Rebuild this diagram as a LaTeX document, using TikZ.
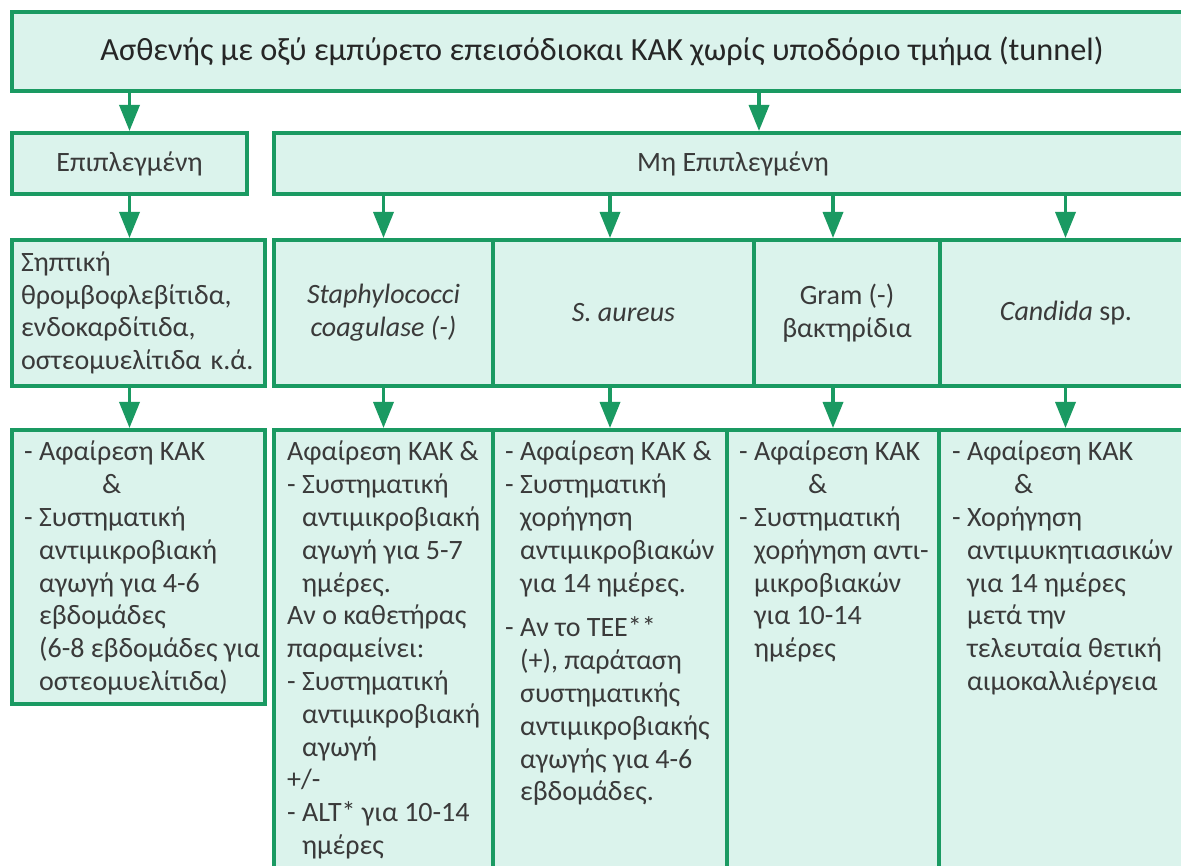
\documentclass[tikz,border=0pt]{standalone}
\usepackage{fontspec}
\setmainfont{Carlito}
\usetikzlibrary{arrows.meta,positioning}
\definecolor{frame}{HTML}{1A9A62}
\definecolor{cellfill}{HTML}{DBF3EC}
\definecolor{txt}{HTML}{3A3A3A}
\newcommand\dind{\phantom{- }}

\begin{document}
\begin{tikzpicture}[x=1pt,y=-1pt,
  box/.style={draw=frame,fill=cellfill,line width=4pt,anchor=north west,inner sep=0pt,text=txt,
    font=\fontsize{28}{32.8}\selectfont,align=center},
  body/.style={font=\fontsize{28}{32.8}\selectfont,align=left,anchor=north west,inner sep=0pt,text=txt},
  arr/.style={draw=frame,line width=3.5pt,-{Triangle[width=20pt,length=26pt]}}]
\clip (0,0) rectangle (1181,866);

% title and first split
\node[box,minimum width=1180pt,minimum height=79pt,font=\fontsize{32.3}{40}\selectfont,text=black!85] (pat) at (10,10)
  {Ασθενής με οξύ εμπύρετο επεισόδιοκαι ΚΑΚ χωρίς υποδόριο τμήμα (tunnel)};
\node[box,minimum width=235pt,minimum height=61pt] (epi) at (10,131) {Επιπλεγμένη};
\node[box,minimum width=918pt,minimum height=61pt] (mh) at (272,131) {Μη Επιπλεγμένη};

% row 3
\node[box,minimum width=253pt,minimum height=146pt,text width=235pt,align=left] (sep) at (10,238)
  {Σηπτική\\θρομβοφλεβίτιδα,\\ενδοκαρδίτιδα,\\οστεομυελίτιδα κ.ά.};
\node[box,minimum width=219pt,minimum height=146pt] (sta) at (272,238) {\textit{Staphylococci}\\\textit{coagulase (-)}};
\node[box,minimum width=261pt,minimum height=146pt] (sau) at (491,238) {\textit{S. aureus}};
\node[box,minimum width=186pt,minimum height=146pt] (gra) at (752,238) {Gram (-)\\βακτηρίδια};
\node[box,minimum width=252pt,minimum height=146pt] (can) at (938,238) {\textit{Candida} sp.};

% row 4
\node[box,minimum width=253pt,minimum height=274pt] (sepT) at (10,428) {};
\node[box,minimum width=219pt,minimum height=460pt] (staT) at (272,428) {};
\node[box,minimum width=234pt,minimum height=460pt] (sauT) at (491,428) {};
\node[box,minimum width=212pt,minimum height=460pt] (graT) at (725,428) {};
\node[box,minimum width=253pt,minimum height=460pt] (canT) at (937,428) {};

\node[body] (sepX) at ([xshift=14pt,yshift=-13pt]sepT.north west)
  {- Αφαίρεση ΚΑΚ\\ \hspace*{78pt}\&\\ - Συστηματική\\ \dind αντιμικροβιακή\\ \dind αγωγή για 4-6\\
   \dind εβδομάδες\\ \dind (6-8 εβδομάδες για\\ \dind οστεομυελίτιδα)};
\node[body] (staX) at ([xshift=15pt,yshift=-13pt]staT.north west)
  {Αφαίρεση ΚΑΚ \&\\ - Συστηματική\\ \dind αντιμικροβιακή\\ \dind αγωγή για 5-7\\ \dind ημέρες.\\
   Αν ο καθετήρας\\ παραμείνει:\\ - Συστηματική\\ \dind αντιμικροβιακή\\ \dind αγωγή\\ +/-\\
   - ALT* για 10-14\\ \dind ημέρες};
\node[body] (sauX) at ([xshift=14pt,yshift=-13pt]sauT.north west)
  {- Αφαίρεση ΚΑΚ \&\\ - Συστηματική\\ \dind χορήγηση\\ \dind αντιμικροβιακών\\ \dind για 14 ημέρες.\\[12pt]
   - Αν το TEE**\\ \dind (+), παράταση\\ \dind συστηματικής\\ \dind αντιμικροβιακής\\ \dind αγωγής για 4-6\\
   \dind εβδομάδες.};
\node[body] (graX) at ([xshift=14pt,yshift=-13pt]graT.north west)
  {- Αφαίρεση ΚΑΚ\\ \hspace*{69pt}\&\\ - Συστηματική\\ \dind χορήγηση αντι-\\ \dind μικροβιακών\\
   \dind για 10-14\\ \dind ημέρες};
\node[body] (canX) at ([xshift=15pt,yshift=-13pt]canT.north west)
  {- Αφαίρεση ΚΑΚ\\ \hspace*{62pt}\&\\ - Χορήγηση\\ \dind αντιμυκητιασικών\\ \dind για 14 ημέρες\\
   \dind μετά την\\ \dind τελευταία θετική\\ \dind αιμοκαλλιέργεια};

% arrows
\draw[arr] (pat.south -| epi.north) -- (epi.north);
\draw[arr] ([xshift=26pt]mh.north |- pat.south) -- ([xshift=26pt]mh.north);
\draw[arr] (epi.south) -- (sep.north -| epi.south);
\draw[arr] (sep.south -| epi.south) -- (sepT.north -| epi.south);
\foreach \u/\l in {staT/sta,sauT/sau,graT/gra,canT/can} {
  \draw[arr] (mh.south -| \u.north) -- (\l.north -| \u.north);
  \draw[arr] (\l.south -| \u.north) -- (\u.north);
}
\end{tikzpicture}
\end{document}
